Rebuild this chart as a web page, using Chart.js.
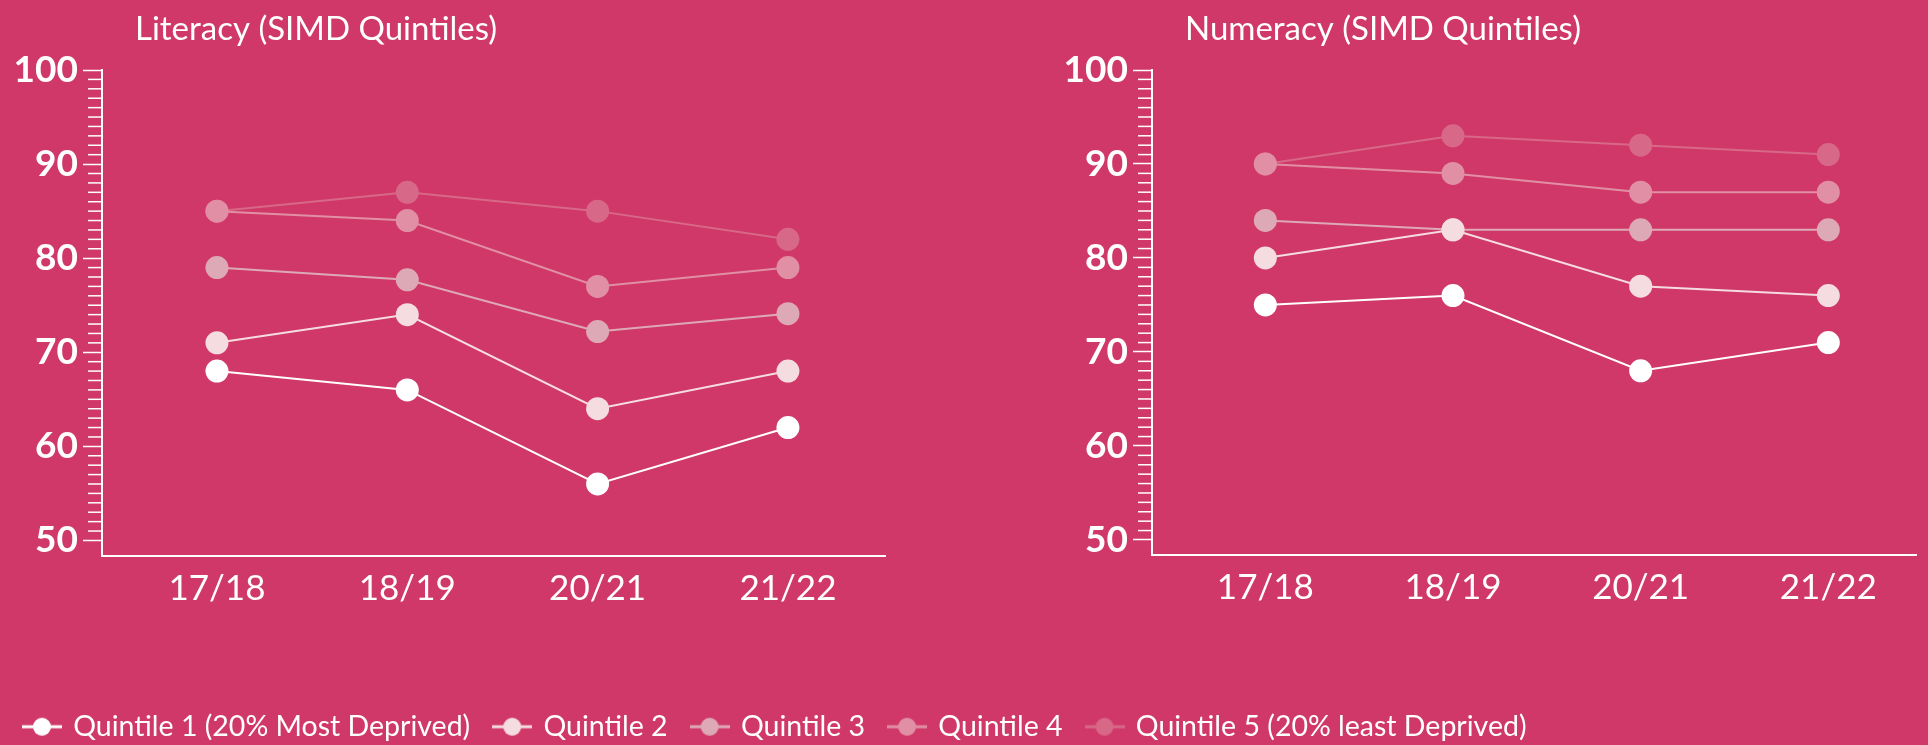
<!DOCTYPE html>
<html>
<head>
<meta charset="utf-8">
<script src="https://cdn.jsdelivr.net/npm/chart.js@4.4.1/dist/chart.umd.min.js"></script>
<style>
html,body{margin:0;padding:0;overflow:hidden;background:#D0386A;width:1928px;height:745px;}
#wrapLeft{position:absolute;left:0;top:0;}
#wrapRight{position:absolute;left:1040px;top:0;}
</style>
</head>
<body>
<div id="wrapLeft"><canvas id="chartLiteracy" width="1928" height="751"></canvas></div>
<div id="wrapRight"><canvas id="chartNumeracy" width="888" height="751"></canvas></div>
<script>
// datos
var years = ['17/18', '18/19', '20/21', '21/22'];
var quintiles = ['Quintile 1 (20% Most Deprived)', 'Quintile 2', 'Quintile 3', 'Quintile 4', 'Quintile 5 (20% least Deprived)'];

var literacyQ1 = [68, 66, 56, 62];
var literacyQ2 = [71, 74, 64, 68];
var literacyQ3 = [79, 77.7, 72.2, 74.1];
var literacyQ4 = [85, 84, 77, 79];
var literacyQ5 = [85, 87, 85, 82];

var numeracyQ1 = [75, 76, 68, 71];
var numeracyQ2 = [80, 83, 77, 76];
var numeracyQ3 = [84, 83, 83, 83];
var numeracyQ4 = [90, 89, 87, 87];
var numeracyQ5 = [90, 93, 92, 91];

var yTicks = [50, 60, 70, 80, 90, 100];

var colores = ['#FFFFFF', '#F4DCE1', '#DEA9B6', '#E18FA5', '#D86887'];

Chart.defaults.font.family = 'Lato';
Chart.defaults.color = '#FFFFFF';

function marcador(color){
	var c = document.createElement('canvas');
	c.width = 40;
	c.height = 22;
	var g = c.getContext('2d');
	g.strokeStyle = color;
	g.lineWidth = 3;
	g.beginPath();
	g.moveTo(0, 11);
	g.lineTo(40, 11);
	g.stroke();
	g.fillStyle = color;
	g.beginPath();
	g.arc(20, 11, 9, 0, Math.PI * 2);
	g.fill();
	return c;
}

function armarSeries(listas){
	return listas.map(function(valores, i){
		return {
			label: quintiles[i],
			data: valores.map(function(v, j){ return {x: j, y: v}; }),
			borderColor: colores[i],
			backgroundColor: colores[i],
			pointBackgroundColor: colores[i],
			pointBorderWidth: 0,
			pointRadius: 11.5,
			pointHoverRadius: 11.5,
			borderWidth: 2,
			tension: 0
		};
	});
}

function escalas(xMax, anchoY){
	return {
		x: {
			type: 'linear',
			min: -0.604,
			max: xMax,
			afterBuildTicks: function(s){ s.ticks = years.map(function(t, i){ return {value: i}; }); },
			ticks: {
				callback: function(v){ return years[v]; },
				font: {size: 35},
				color: '#FFFFFF',
				padding: 12,
				maxRotation: 0,
				autoSkip: false
			},
			grid: {drawOnChartArea: false, drawTicks: false},
			border: {display: true, color: '#FFFFFF', width: 2},
			afterFit: function(s){ s.height = 132; }
		},
		y: {
			min: 48.4,
			max: 100,
			afterBuildTicks: function(s){ s.ticks = yTicks.map(function(v){ return {value: v}; }); },
			ticks: {
				font: {size: 37, weight: 'bold'},
				color: '#FFFFFF',
				padding: 5
			},
			grid: {drawOnChartArea: false, drawTicks: true, tickLength: 19, tickColor: '#FFFFFF', tickWidth: 1.5},
			border: {display: true, color: '#FFFFFF', width: 2},
			afterFit: function(s){ s.width = anchoY; }
		}
	};
}

// titulo y marcas menores del eje y
var panelPlugin = {
	id: 'panel',
	afterDraw: function(chart, args, opts){
		var ctx = chart.ctx;
		var area = chart.chartArea;
		var ey = chart.scales.y;
		ctx.save();
		ctx.fillStyle = '#FFFFFF';
		ctx.font = '33px Lato';
		ctx.textBaseline = 'alphabetic';
		ctx.textAlign = 'left';
		ctx.fillText(opts.text, area.left + 33, 40);
		ctx.strokeStyle = '#FFFFFF';
		ctx.lineWidth = 1.5;
		for (var v = 51; v < 100; v++){
			if (v % 10 === 0) continue;
			var py = ey.getPixelForValue(v);
			ctx.beginPath();
			ctx.moveTo(area.left - 14, py);
			ctx.lineTo(area.left, py);
			ctx.stroke();
		}
		ctx.restore();
	}
};

function init(){
	var sc1 = escalas(3.51, 102);
	// eje vacio a la derecha para dejar sitio al segundo panel
	sc1.hueco = {
		position: 'right',
		display: true,
		ticks: {display: false},
		grid: {display: false},
		border: {display: false},
		afterFit: function(s){ s.width = 1043; }
	};

	new Chart(document.getElementById('chartLiteracy').getContext('2d'), {
		type: 'line',
		data: {datasets: armarSeries([literacyQ1, literacyQ2, literacyQ3, literacyQ4, literacyQ5])},
		plugins: [panelPlugin],
		options: {
			responsive: false,
			animation: false,
			layout: {padding: {top: 70, left: 0, right: 0, bottom: 0}},
			scales: sc1,
			plugins: {
				panel: {text: 'Literacy (SIMD Quintiles)'},
				title: {display: false},
				tooltip: {enabled: false},
				legend: {
					position: 'bottom',
					align: 'start',
					labels: {
						color: '#FFFFFF',
						font: {size: 28.5},
						usePointStyle: true,
						pointStyleWidth: 34,
						padding: 25,
						generateLabels: function(chart){
							var items = Chart.defaults.plugins.legend.labels.generateLabels(chart);
							items.forEach(function(it, i){
								it.pointStyle = marcador(colores[i]);
								it.fontColor = '#FFFFFF';
							});
							return items;
						}
					}
				}
			}
		}
	});

	new Chart(document.getElementById('chartNumeracy').getContext('2d'), {
		type: 'line',
		data: {datasets: armarSeries([numeracyQ1, numeracyQ2, numeracyQ3, numeracyQ4, numeracyQ5])},
		plugins: [panelPlugin],
		options: {
			responsive: false,
			animation: false,
			layout: {padding: {top: 70, left: 0, right: 0, bottom: 64}},
			scales: escalas(3.47, 112),
			plugins: {
				panel: {text: 'Numeracy (SIMD Quintiles)'},
				title: {display: false},
				tooltip: {enabled: false},
				legend: {display: false}
			}
		}
	});
}

init();
</script>
</body>
</html>
